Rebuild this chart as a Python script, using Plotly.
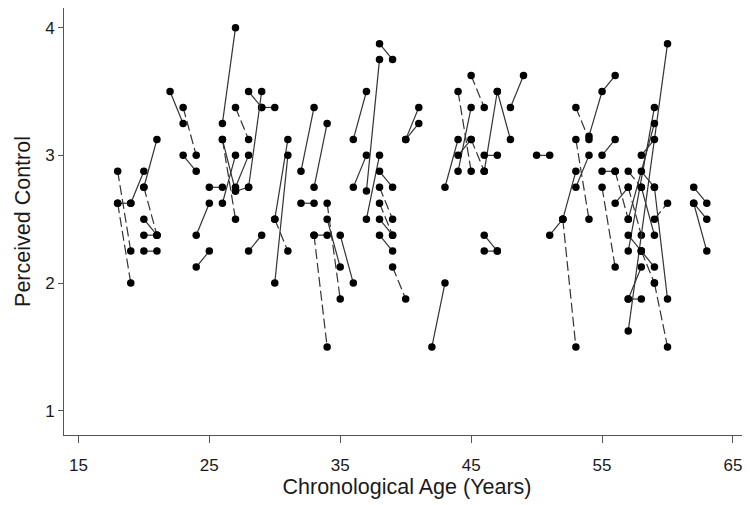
import plotly.graph_objects as go

# Each subject: list of ages and list of perceived-control values (two waves)
subject_ages = [
    [18, 19], [18, 19], [18, 19], [19, 20], [20, 21], [20, 21], [20, 21], [20, 21], [20, 21],
    [22, 23], [23, 24], [23, 24], [24, 25], [24, 25], [25, 26],
    [26, 27], [26, 27], [26, 27], [26, 27], [27, 28], [27, 28], [27, 28],
    [28, 29], [29, 30], [28, 29], [28, 29],
    [30, 31], [30, 31], [30, 31],
    [32, 33], [33, 34], [32, 33], [34, 35], [34, 35], [33, 34], [33, 34], [35, 36],
    [36, 37], [36, 37], [37, 38], [38, 39], [37, 38], [38, 39], [38, 39], [38, 39],
    [38, 39], [38, 39], [39, 40], [40, 41], [40, 41],
    [42, 43], [43, 44], [44, 45], [44, 45], [45, 46], [44, 45], [45, 46], [46, 47],
    [47, 48], [46, 47], [48, 49], [46, 47], [46, 47],
    [50, 51], [51, 52], [52, 53], [52, 53], [53, 54], [53, 54], [53, 54],
    [54, 55, 56], [55, 56], [55, 56], [55, 56], [56, 57],
    [57, 58], [57, 58], [57, 60], [57, 58], [57, 59], [57, 59], [58, 59], [58, 59],
    [59, 60], [59, 60], [59, 60], [58, 59], [58, 59], [57, 58],
    [62, 63], [62, 63], [62, 63],
    [56, 57], [57, 58], [58, 59],
]
subject_values = [
    [2.875, 2.25], [2.625, 2.0], [2.625, 2.625], [2.625, 2.875], [2.75, 3.125], [2.75, 2.375],
    [2.5, 2.375], [2.25, 2.25], [2.375, 2.375],
    [3.5, 3.25], [3.375, 3.0], [3.0, 2.875], [2.375, 2.625], [2.125, 2.25], [2.75, 2.75],
    [3.25, 4.0], [3.125, 2.72], [3.125, 2.5], [2.625, 3.0], [2.75, 3.0], [3.375, 3.125], [2.72, 2.75],
    [3.5, 3.375], [3.375, 3.375], [2.75, 3.5], [2.25, 2.375],
    [2.5, 3.125], [2.0, 3.0], [2.5, 2.25],
    [2.875, 3.375], [2.75, 3.25], [2.625, 2.625], [2.625, 1.875], [2.5, 2.125], [2.375, 2.375],
    [2.375, 1.5], [2.375, 2.0],
    [3.125, 3.5], [2.75, 3.0], [2.72, 3.75], [3.875, 3.75], [2.5, 3.0], [2.875, 2.75],
    [2.75, 2.5], [2.625, 2.375],
    [2.375, 2.25], [2.5, 2.375], [2.125, 1.875], [3.125, 3.375], [3.125, 3.25],
    [1.5, 2.0], [2.75, 3.125], [3.5, 2.875], [2.875, 3.375], [3.625, 3.375], [3.0, 3.125],
    [3.125, 2.875], [2.875, 3.5],
    [3.5, 3.125], [3.0, 3.0], [3.375, 3.625], [2.375, 2.25], [2.25, 2.25],
    [3.0, 3.0], [2.375, 2.5], [2.5, 2.875], [2.5, 1.5], [3.375, 3.125], [3.125, 2.5], [2.75, 3.0],
    [3.15, 3.5, 3.625], [3.0, 3.125], [2.875, 2.875], [2.75, 2.125], [2.625, 2.75],
    [2.75, 2.375], [1.875, 1.875], [1.625, 3.875], [1.875, 2.125], [2.25, 3.375], [2.5, 3.25],
    [3.0, 3.125], [2.875, 2.75],
    [2.75, 1.875], [2.0, 1.5], [2.5, 2.625], [2.75, 2.375], [2.25, 2.0], [2.375, 2.25],
    [2.75, 2.625], [2.625, 2.5], [2.625, 2.25],
    [2.875, 2.5], [2.875, 2.75], [2.25, 2.125],
]
# indices of subjects whose trajectory is drawn with a dashed line
dashed_subjects = {0, 1, 5, 10, 17, 20, 28, 32, 35, 43, 44, 47, 52, 54, 56, 66, 67, 68,
                   73, 75, 84, 85, 87, 92, 93}

x_ticks = [15, 25, 35, 45, 55, 65]
y_ticks = [1, 2, 3, 4]

fig = go.Figure()
for i, (ages, vals) in enumerate(zip(subject_ages, subject_values)):
    fig.add_trace(go.Scatter(
        x=ages, y=vals, mode="lines+markers",
        line=dict(color="#333333", width=1.2,
                  dash="10px,4px" if i in dashed_subjects else "solid"),
        marker=dict(color="black", size=7.5),
        showlegend=False, hoverinfo="x+y",
    ))

axis_font = dict(family="Liberation Sans, Arial, sans-serif", size=17, color="#1a1a1a")
title_font = dict(family="Liberation Sans, Arial, sans-serif", size=21.5, color="#1a1a1a")

# the page body adds an 8px offset, so the figure is sized/margined to compensate
fig.update_layout(
    width=742, height=497,
    margin=dict(l=56, r=0, t=0, b=70),
    paper_bgcolor="white", plot_bgcolor="white",
    xaxis=dict(range=[13.9, 66.3], tickvals=x_ticks, ticktext=[str(v) for v in x_ticks],
               automargin=False,
               showgrid=False, zeroline=False, showline=True, linecolor="#555555",
               linewidth=1, ticks="outside", ticklen=7, tickcolor="#555555",
               tickfont=axis_font, ticklabelstandoff=8,
               title=dict(text="Chronological Age (Years)", font=title_font, standoff=4)),
    yaxis=dict(range=[0.81, 4.154], tickvals=y_ticks, ticktext=[str(v) for v in y_ticks],
               automargin=False,
               showgrid=False, zeroline=False, showline=True, linecolor="#555555",
               linewidth=1, ticks="outside", ticklen=5, tickcolor="#555555",
               tickfont=axis_font,
               title=dict(text="Perceived Control", font=title_font, standoff=8)),
)

fig.write_html("out.html")
